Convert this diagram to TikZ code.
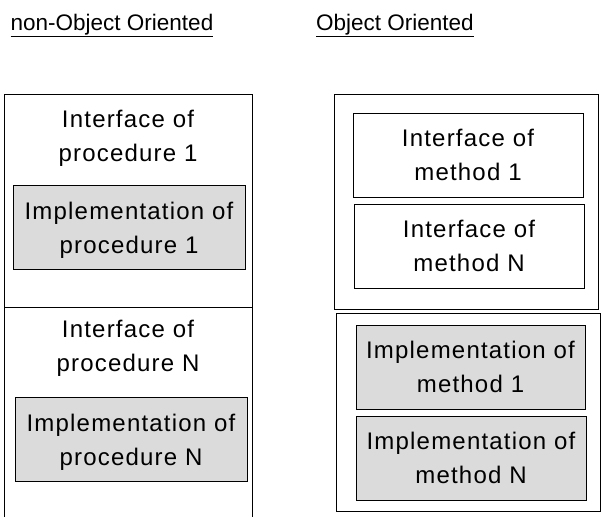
\documentclass[tikz,border=0pt]{standalone}
\usepackage{fontspec}
\setmainfont{Liberation Sans}
\newfontfamily\boxfont[LetterSpace=5]{Liberation Sans}
\usepackage{tikz}

\begin{document}
\begin{tikzpicture}[x=1pt, y=-1pt,
    titlu/.style={font=\fontsize{22.5}{26}\selectfont, anchor=base, inner sep=0pt},
    txt/.style={font=\boxfont\fontsize{24}{34}\selectfont, align=center, inner sep=0pt},
    cutie/.style={txt, draw, line width=0.9pt, minimum height=84, text depth=0pt},
    impl/.style={cutie, fill=black!14}]
    \useasboundingbox (0,0) rectangle (603,517);
    % Titluri
    \node[titlu] (tno) at (112,30) {\underline{non-Object Oriented}};
    \node[titlu] (too) at (395,30) {\underline{Object Oriented}};
    % Coloana stanga — deschisa jos
    \draw[line width=0.9pt] (4,517) -- (4,94) -- (252,94) -- (252,517);
    \draw[line width=0.9pt] (4,307) -- (252,307);
    \node[txt] (ip1) at (128,138) {Interface of\\procedure 1};
    \node[impl, minimum width=232] (mp1) at (129,227.5) {Implementation of\\procedure 1};
    \node[txt] (ipn) at (128,348) {Interface of\\procedure N};
    \node[impl, minimum width=232] (mpn) at (131,439.5) {Implementation of\\procedure N};
    % Coloana dreapta — doua cutii exterioare
    \draw[line width=0.9pt] (334,94) rectangle (598,309);
    \draw[line width=0.9pt] (336,313) rectangle (600,511);
    \node[cutie, minimum width=230] (im1) at (468,155) {Interface of\\method 1};
    \node[cutie, minimum width=230] (imn) at (469,246) {Interface of\\method N};
    \node[impl, minimum width=229] (mm1) at (470.5,367) {Implementation of\\method 1};
    \node[impl, minimum width=230] (mmn) at (471,458) {Implementation of\\method N};
\end{tikzpicture}
\end{document}
